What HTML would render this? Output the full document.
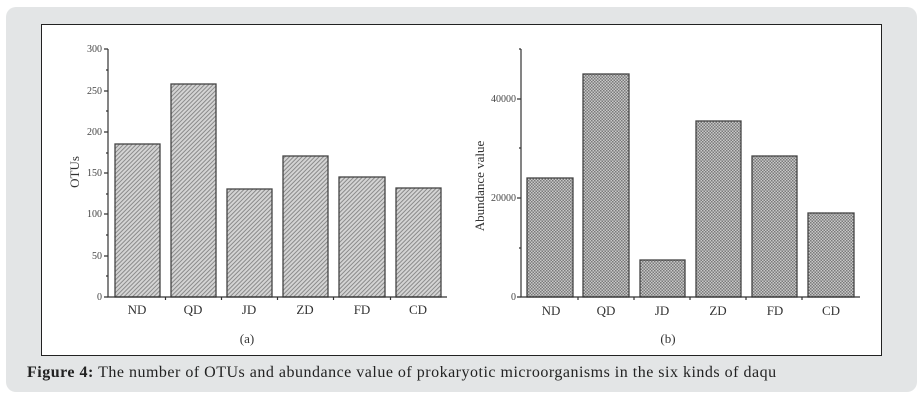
<!DOCTYPE html>
<html><head><meta charset="utf-8"><style>
body{margin:0;background:#fff;width:920px;height:402px;overflow:hidden;font-family:"Liberation Serif",serif}
.panel{position:absolute;left:6px;top:7px;width:911px;height:385px;background:#e3e5e6;border-radius:10px}
.box{position:absolute;left:41px;top:24px;width:839px;height:330px;background:#fff;border:1px solid #222}
.cap{position:absolute;left:27px;top:364px;font-size:16px;letter-spacing:0.5px;color:#222;white-space:nowrap}
svg{position:absolute;left:0;top:0}
</style></head><body>
<div class="panel"></div>
<div class="box"></div>
<svg width="920" height="402" font-family="Liberation Serif, serif">
<defs>
<pattern id="h" width="3" height="3" patternUnits="userSpaceOnUse" patternTransform="rotate(45)">
<rect width="3" height="3" fill="#d4d4d4"/><rect width="1" height="3" fill="#8a8a8a"/></pattern>
<pattern id="c" width="3" height="3" patternUnits="userSpaceOnUse">
<rect width="3" height="3" fill="#c8c8c8"/><rect width="1.5" height="1.5" fill="#7a7a7a"/><rect x="1.5" y="1.5" width="1.5" height="1.5" fill="#7a7a7a"/></pattern>
</defs>
<g stroke="#444" stroke-width="1.3">
<rect x="115" y="144" width="45" height="153" fill="url(#h)"/>
<rect x="171" y="84" width="45" height="213" fill="url(#h)"/>
<rect x="227" y="189" width="45" height="108" fill="url(#h)"/>
<rect x="283" y="156" width="45" height="141" fill="url(#h)"/>
<rect x="339" y="177" width="46" height="120" fill="url(#h)"/>
<rect x="396" y="188" width="45" height="109" fill="url(#h)"/>
<rect x="527" y="178" width="46" height="119" fill="url(#c)"/>
<rect x="583" y="74" width="46" height="223" fill="url(#c)"/>
<rect x="640" y="260" width="45" height="37" fill="url(#c)"/>
<rect x="696" y="121" width="45" height="176" fill="url(#c)"/>
<rect x="752" y="156" width="45" height="141" fill="url(#c)"/>
<rect x="808" y="213" width="46" height="84" fill="url(#c)"/>
</g>
<g stroke="#333" stroke-width="1.2" fill="none">
<path d="M108 49V297H447"/>
<path d="M104 49H108M104 91H108M104 132H108M104 173H108M104 214H108M104 256H108M104 297H108"/>
<path d="M106 70H108M106 111H108M106 153H108M106 194H108M106 235H108M106 276H108"/>
<path d="M165.5 297V300M221.5 297V300M277.5 297V300M333.5 297V300M390.5 297V300"/>
<path d="M521 49V297H860"/>
<path d="M517 99H521M517 198H521M517 297H521M519 148H521M519 248H521M519 49H521"/>
<path d="M578 297V300M634 297V300M690 297V300M746 297V300M802 297V300"/>
</g>
<g font-size="10" fill="#444" text-anchor="end">
<text x="102" y="52">300</text><text x="102" y="94">250</text><text x="102" y="135">200</text><text x="102" y="176">150</text><text x="102" y="217">100</text><text x="102" y="259">50</text><text x="102" y="300">0</text>
<text x="516" y="102">40000</text><text x="516" y="201">20000</text><text x="516" y="300">0</text>
</g>
<g font-size="13" fill="#333" text-anchor="middle">
<text x="137" y="314">ND</text><text x="193" y="314">QD</text><text x="249" y="314">JD</text><text x="305" y="314">ZD</text><text x="362" y="314">FD</text><text x="418" y="314">CD</text>
<text x="551" y="315">ND</text><text x="606" y="315">QD</text><text x="662" y="315">JD</text><text x="718" y="315">ZD</text><text x="775" y="315">FD</text><text x="831" y="315">CD</text>
<text x="247" y="343">(a)</text><text x="668" y="343">(b)</text>
<text transform="translate(79 172) rotate(-90)" font-size="13">OTUs</text>
<text transform="translate(484 186) rotate(-90)" font-size="13">Abundance value</text>
</g>
</svg>
<div class="cap"><b>Figure 4:</b> The number of OTUs and abundance value of prokaryotic microorganisms in the six kinds of daqu</div>
</body></html>
